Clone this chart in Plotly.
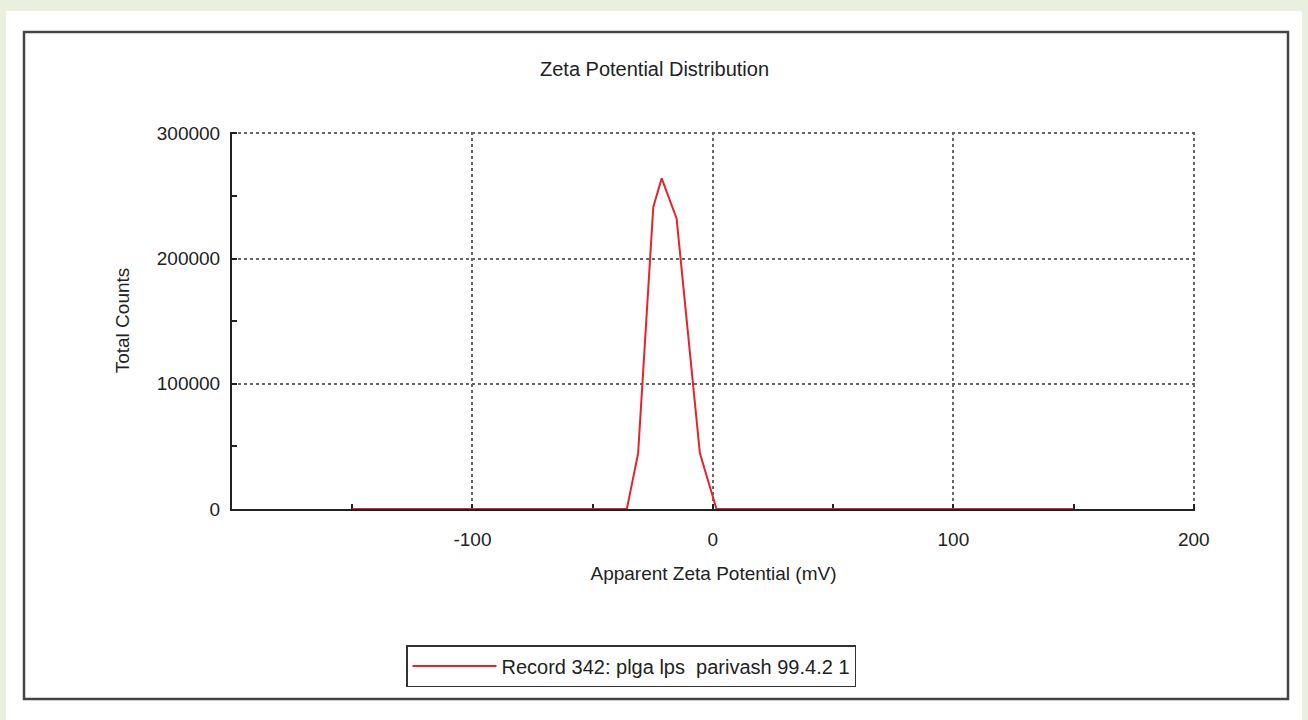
import plotly.graph_objects as go

# ---- data ----
zeta_mv = [-150, -35.8, -31.1, -24.8, -21.3, -15.1, -5.4, 1.5, 150]
total_counts = [0, 0, 44400, 241000, 264000, 232000, 44400, 0, 0]

x_tick_vals = [-100, 0, 100, 200]
x_tick_text = ["-100", "0", "100", "200"]
y_tick_vals = [0, 100000, 200000, 300000]
y_tick_text = ["0", "100000", "200000", "300000"]

series_name = "Record 342: plga lps  parivash 99.4.2 1"
chart_title = "Zeta Potential Distribution"
x_title = "Apparent Zeta Potential (mV)"
y_title = "Total Counts"

W, H = 1308, 720
L, R, T, B = 232, 1308 - 1195, 132, 720 - 509
PW, PH = W - L - R, H - T - B


def px(xp):
    return (xp - L) / PW


def py(yp):
    return (H - B - yp) / PH


FONT = "Liberation Sans, Arial, sans-serif"
TXT = "#222222"

fig = go.Figure()
fig.add_trace(go.Scatter(
    x=zeta_mv, y=total_counts, mode="lines", name=series_name,
    line=dict(color="#e3242b", width=2), cliponaxis=False,
))

fig.update_layout(
    width=W, height=H,
    margin=dict(l=L, r=R, t=T, b=B, pad=0),
    paper_bgcolor="#e9f1de",
    plot_bgcolor="rgba(0,0,0,0)",
    font=dict(family=FONT, size=19, color=TXT),
    showlegend=True,
    legend=dict(
        x=px(406), y=py(645), xanchor="left", yanchor="top",
        bgcolor="white", bordercolor="#333333", borderwidth=1.5,
        font=dict(size=20, color=TXT), itemwidth=84,
        tracegroupgap=0,
    ),
    shapes=[
        dict(type="rect", xref="paper", yref="paper", layer="below",
             x0=px(6), x1=px(1302), y0=py(720), y1=py(11),
             fillcolor="white", line=dict(width=0)),
        dict(type="rect", xref="paper", yref="paper", layer="above",
             x0=px(24), x1=px(1288), y0=py(699), y1=py(32),
             line=dict(color="#444444", width=2.5)),
    ],
    annotations=[
        dict(text=chart_title, xref="paper", yref="paper",
             x=px(654), y=py(69), xanchor="center", yanchor="middle",
             showarrow=False, font=dict(size=20, color=TXT)),
    ],
)

fig.update_xaxes(
    range=[-200, 200.5], tickmode="array", tickvals=x_tick_vals, ticktext=x_tick_text,
    showline=True, linecolor="#222222", linewidth=2,
    ticks="inside", ticklen=5, tickwidth=2, tickcolor="#222222",
    minor=dict(dtick=50, tick0=0, ticks="inside", ticklen=5, tickwidth=2,
               tickcolor="#222222", showgrid=False),
    showgrid=True, gridcolor="#666666", griddash="dot", gridwidth=1.5,
    zeroline=False, layer="below traces",
    tickfont=dict(size=19, color=TXT), ticklabelstandoff=12,
    title=dict(text=x_title, font=dict(size=19, color=TXT), standoff=18),
)
fig.update_yaxes(
    range=[0, 301000], tickmode="array", tickvals=y_tick_vals, ticktext=y_tick_text,
    showline=True, linecolor="#222222", linewidth=2,
    ticks="inside", ticklen=5, tickwidth=2, tickcolor="#222222",
    minor=dict(dtick=50000, tick0=0, ticks="inside", ticklen=5, tickwidth=2,
               tickcolor="#222222", showgrid=False),
    showgrid=True, gridcolor="#666666", griddash="dot", gridwidth=1.5,
    zeroline=False,
    tickfont=dict(size=19, color=TXT), ticklabelstandoff=6,
    title=dict(text=y_title, font=dict(size=19, color=TXT), standoff=22),
)

fig.write_html("out.html")
